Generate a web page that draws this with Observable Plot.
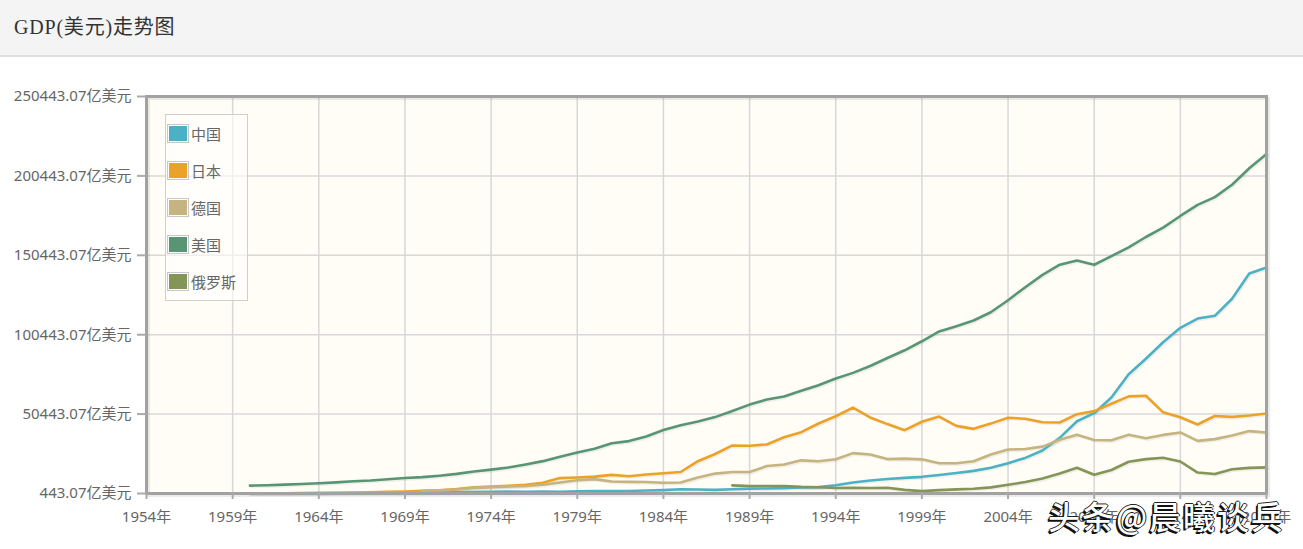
<!DOCTYPE html>
<html>
<head>
<meta charset="utf-8">
<script src="https://cdn.jsdelivr.net/npm/d3@7"></script>
<script src="https://cdn.jsdelivr.net/npm/@observablehq/plot@0.6"></script>
<style>
  html, body { margin: 0; padding: 0; background: #fff; width: 1303px; height: 549px; overflow: hidden; }
  #header { position: relative; height: 55px; background: #f4f4f4; border-bottom: 2px solid #dedede; }
  #title { position: absolute; left: 14px; top: 17px; line-height: 20px; font-size: 20px; letter-spacing: 0.8px;
           font-family: "Liberation Serif", "Noto Sans CJK SC", serif; color: #333; white-space: nowrap; }
  #wrap { position: relative; width: 1303px; height: 492px; }
  #legend { position: absolute; left: 165px; top: 57px; border: 1px solid #cfcfcf; background: rgba(255,255,255,0.6);
            padding-top: 0; box-sizing: border-box; height: 187px; width: 83px; }
  .row { height: 37px; display: flex; align-items: center; }
  .sw { border: 1px solid #c8c8c8; padding: 1px; margin-left: 1px; background: #fff; }
  .sw div { width: 18px; height: 15px; }
  .lab { margin-left: 2px; font: 15px "Noto Sans CJK SC", sans-serif; color: #666; line-height: 15px; }
  #wm { position: absolute; left: 1048px; top: 442px; font: 500 32px "Noto Sans CJK SC", sans-serif; line-height: 32px;
        letter-spacing: 2px; color: #fff; white-space: nowrap;
        text-shadow: -2px 2px 0 #111, -1px 1px 0 #111, 1px 0 0 #222, 0 -1px 0 #222, -1px 0 0 #222; }
</style>
</head>
<body>
<div id="header"><div id="title"></div></div>
<div id="wrap"><div id="chart"></div><div id="legend"></div><div id="wm"></div></div>
<script>
const titleText = "GDP(美元)走势图";
const watermarkText = "头条@晨曦谈兵";
const seriesNames = ["中国", "日本", "德国", "美国", "俄罗斯"];
const seriesColors = ["#4bb2c5", "#eaa228", "#c5b47f", "#579575", "#839557"];

const years = [1960,1961,1962,1963,1964,1965,1966,1967,1968,1969,
               1970,1971,1972,1973,1974,1975,1976,1977,1978,1979,
               1980,1981,1982,1983,1984,1985,1986,1987,1988,1989,
               1990,1991,1992,1993,1994,1995,1996,1997,1998,1999,
               2000,2001,2002,2003,2004,2005,2006,2007,2008,2009,
               2010,2011,2012,2013,2014,2015,2016,2017,2018,2019];

// GDP, 亿美元
const china = [597,501,472,507,597,704,767,729,708,797,
               926,998,1137,1385,1442,1634,1539,1749,1495,1783,
               1911,1959,2051,2307,2599,3095,3008,2729,3124,3478,
               3609,3834,4269,4447,5643,7345,8637,9616,10290,10940,
               12113,13394,14706,16603,19553,22859,27521,35503,45943,51017,
               60872,75515,85322,95704,104757,110616,112333,123104,138948,142799];
const japan = [443.07,535,607,695,817,909,1056,1238,1466,1722,
               2126,2402,3180,4321,4796,5215,5862,7214,10136,10550,
               11054,12190,11345,12433,13184,13989,20789,25328,30717,30549,
               31328,35844,39088,44541,49070,54491,48337,44147,40325,45621,
               48875,43035,41151,44457,48151,47554,45304,45153,50379,52314,
               57001,61575,62032,51557,48504,43895,49225,48669,49548,50818];
const germany = [null,null,null,null,null,null,null,null,null,null,
               2158,2499,2998,3984,4453,4906,5198,6002,7405,8813,
               9503,8005,7766,7707,7251,7325,10463,12982,14012,13990,
               17717,18689,21316,20713,22051,25858,24972,22120,22390,21949,
               19480,19458,20785,25016,28144,28469,29947,34256,37453,34113,
               33997,37493,35271,37338,38891,33576,34699,36908,39744,38882];
const usa = [5433,5633,6051,6386,6858,7437,8150,8617,9425,10199,
               10733,11649,12791,14254,15452,16849,18734,20818,23516,26273,
               28573,32070,33438,36340,40376,43390,45796,48552,52364,56416,
               59631,61581,65203,68586,72872,76397,80731,85776,90628,96312,
               102510,105818,109364,114582,122137,130366,138146,144519,147128,144489,
               149921,155426,161970,167848,175217,182193,187072,194854,205272,214277];
const russia = [null,null,null,null,null,null,null,null,null,null,
               null,null,null,null,null,null,null,null,null,null,
               null,null,null,null,null,null,null,null,5547,5065,
               5168,5180,4603,4351,3951,3955,3917,4049,2710,1959,
               2597,3066,3455,4303,5910,7640,9899,12997,16608,12226,
               15249,20459,22083,22925,20592,13635,12768,15742,16576,16874];

const xTickYears = [1954,1959,1964,1969,1974,1979,1984,1989,1994,1999,2004,2009,2014,2019];
const yTickValues = [443.07, 50443.07, 100443.07, 150443.07, 200443.07, 250443.07];

document.getElementById("title").textContent = titleText;
document.getElementById("wm").textContent = watermarkText;

const seriesValues = [china, japan, germany, usa, russia];
const rows = [];
seriesNames.forEach((name, s) => {
  years.forEach((yr, i) => {
    const v = seriesValues[s][i];
    if (v != null) rows.push({name, year: yr, value: v});
  });
});

const font = '"Noto Sans", "Noto Sans CJK SC", sans-serif';
const chart = Plot.plot({
  width: 1303,
  height: 492,
  marginTop: 39,
  marginBottom: 56,
  marginLeft: 146,
  marginRight: 37,
  style: {background: "transparent", fontFamily: font, fontSize: "15px", color: "#666", overflow: "visible"},
  x: {type: "linear", domain: [xTickYears[0], xTickYears[xTickYears.length - 1]], label: null},
  y: {type: "linear", domain: [yTickValues[0], yTickValues[yTickValues.length - 1]], label: null},
  color: {domain: seriesNames, range: seriesColors},
  marks: [
    Plot.frame({fill: "#fffdf6"}),
    Plot.gridX(xTickYears, {stroke: "#d8d8d8", strokeOpacity: 1, strokeWidth: 1.5}),
    Plot.gridY(yTickValues, {stroke: "#d8d8d8", strokeOpacity: 1, strokeWidth: 1.5}),
    Plot.line(rows, {x: "year", y: "value", z: "name", stroke: "#000", strokeOpacity: 0.06, strokeWidth: 2.5, dx: 1.5, dy: 1.5}),
    Plot.line(rows, {x: "year", y: "value", z: "name", stroke: "name", strokeWidth: 2.6}),
    Plot.frame({stroke: "#000", strokeOpacity: 0.08, strokeWidth: 3, dx: 2, dy: 2}),
    Plot.frame({stroke: "#a2a2a2", strokeWidth: 3}),
    Plot.axisX(xTickYears, {tickSize: 6, tickPadding: 12, tickFormat: d => d + "年", stroke: "#aaa", strokeWidth: 2, fill: "#666", fontSize: 15, label: null}),
    Plot.axisY(yTickValues, {tickSize: 9, tickPadding: 6, tickFormat: d => d.toFixed(2) + "亿美元", stroke: "#aaa", strokeWidth: 2, fill: "#666", fontSize: 15, label: null})
  ]
});
document.getElementById("chart").appendChild(chart);

const legend = document.getElementById("legend");
seriesNames.forEach((name, i) => {
  const row = document.createElement("div");
  row.className = "row";
  row.innerHTML = `<div class="sw"><div style="background:${seriesColors[i]}"></div></div><span class="lab">${name}</span>`;
  legend.appendChild(row);
});
</script>
</body>
</html>
